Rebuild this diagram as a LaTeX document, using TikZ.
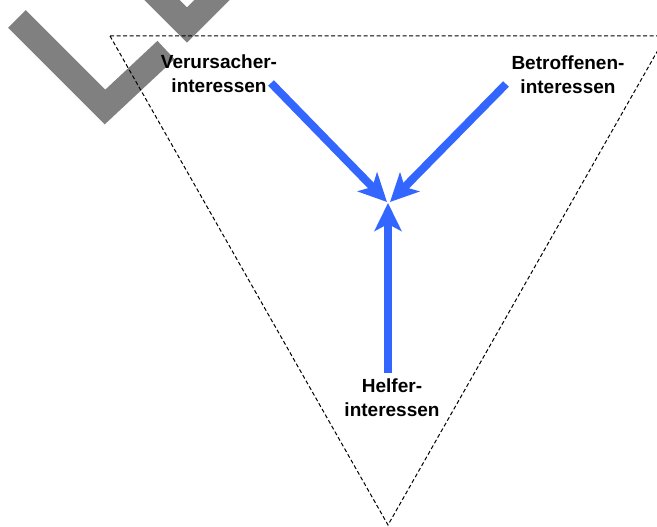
\documentclass[tikz,border=0pt]{standalone}
\usepackage{fontspec}
\setmainfont{Liberation Sans}
\usetikzlibrary{arrows.meta}
\definecolor{arrowblue}{RGB}{51,102,255}
\definecolor{markgray}{RGB}{128,128,128}
\tikzset{
  markstroke/.style={draw=markgray, line width=25pt, line join=miter, line cap=butt},
  tribox/.style={draw=black, line width=1pt, dash pattern=on 4pt off 2.5pt},
  bluearrow/.style={draw=arrowblue, line width=8pt, line cap=butt,
    -{Stealth[length=28pt, width=27pt, inset=7pt, fill=arrowblue]}},
  lbl/.style={font=\fontsize{19}{23.5}\selectfont\bfseries, align=center, anchor=north, inner sep=0pt}
}
\begin{document}
\begin{tikzpicture}[x=1pt, y=-1pt]
\useasboundingbox (0,0) rectangle (657,527);
\clip (0,0) rectangle (657,527);
% gray marks
\draw[markstroke] (17,19) -- (105,107) -- (166,50);
\draw[markstroke] (127,-35) -- (187,25) -- (247,-35);
% dashed triangle
\coordinate (tl) at (110,36);
\coordinate (tr) at (666,36);
\coordinate (ap) at (388,525);
\draw[tribox] (tl) -- (tr) -- (ap) -- cycle;
% labels
\node[lbl] (ver) at (219,55) {Verursacher-\\interessen};
\node[lbl] (bet) at (568,56) {Betroffenen-\\interessen};
\node[lbl] (hel) at (392,379) {Helfer-\\interessen};
% arrow coordinates
\coordinate (sv) at (271,83);
\coordinate (sb) at (506,84);
\coordinate (sh) at (388,373);
\coordinate (tv) at (387,202);
\coordinate (tb) at (390,202);
\coordinate (th) at (388,203);
\draw[bluearrow] (sv) -- (tv);
\draw[bluearrow] (sb) -- (tb);
\draw[bluearrow] (sh) -- (th);
\end{tikzpicture}
\end{document}
